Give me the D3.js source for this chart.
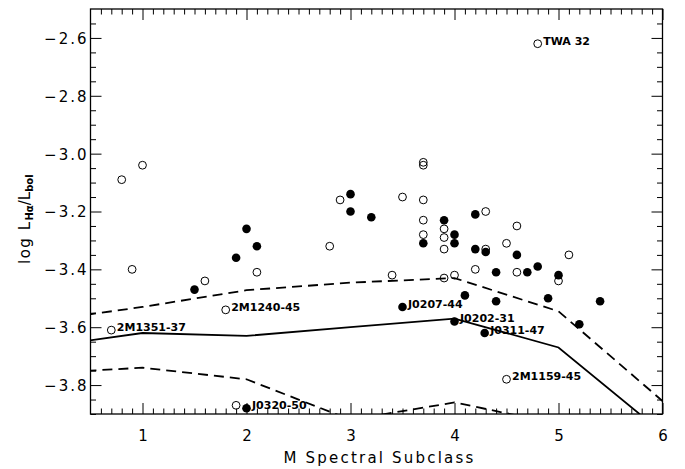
<!DOCTYPE html>
<html><head><meta charset="utf-8">
<script src="https://cdn.jsdelivr.net/npm/d3@7"></script>
<style>
html,body{margin:0;padding:0;background:#fff;}
svg{display:block;}
</style></head>
<body>
<svg id="chart" width="685" height="469"></svg>
<script>
// ---- data ----
const xTicks = [1, 2, 3, 4, 5, 6];
const yTicks = [-2.6, -2.8, -3.0, -3.2, -3.4, -3.6, -3.8];

const openX = [0.8, 1.0, 0.9, 1.6, 2.1, 2.8, 2.9, 3.4, 3.5, 3.7, 3.7, 3.7, 3.7, 3.7, 3.9, 3.9, 3.9, 3.9, 4.0, 4.2, 4.3, 4.3, 4.5, 4.6, 4.6, 5.0, 5.1, 1.9];
const openY = [-3.09, -3.04, -3.40, -3.44, -3.41, -3.32, -3.16, -3.42, -3.15, -3.03, -3.04, -3.16, -3.23, -3.28, -3.26, -3.29, -3.33, -3.43, -3.42, -3.40, -3.20, -3.33, -3.31, -3.25, -3.41, -3.44, -3.35, -3.87];

const filledX = [1.5, 1.9, 2.0, 2.1, 3.0, 3.0, 3.2, 3.7, 3.9, 4.0, 4.0, 4.2, 4.2, 4.3, 4.1, 4.4, 4.4, 4.6, 4.7, 4.8, 4.9, 5.0, 5.2, 5.4];
const filledY = [-3.47, -3.36, -3.26, -3.32, -3.14, -3.20, -3.22, -3.31, -3.23, -3.28, -3.31, -3.21, -3.33, -3.34, -3.49, -3.41, -3.51, -3.35, -3.41, -3.39, -3.50, -3.42, -3.59, -3.51];

const labelNames = ["TWA 32", "2M1351-37", "2M1240-45", "2M1159-45", "J0320-50", "J0207-44", "J0202-31", "J0311-47"];
const labelX = [4.8, 0.7, 1.8, 4.5, 2.0, 3.5, 4.0, 4.29];
const labelY = [-2.62, -3.61, -3.54, -3.78, -3.88, -3.53, -3.58, -3.62];
const labelFilled = [false, false, false, false, true, true, true, true];

const modelX = [0, 1, 2, 3, 4, 5, 6];
const meanY  = [-3.67, -3.62, -3.63, -3.60, -3.57, -3.67, -3.965];
const upperY = [-3.58, -3.53, -3.472, -3.446, -3.43, -3.545, -3.855];
const lowerY = [-3.76, -3.74, -3.78, -3.92, -3.86, -3.935, -4.1];

// ---- layout ----
const L = 90.5, R = 662.5, T = 9, B = 414;
const x = d3.scaleLinear().domain([0.5, 6]).range([L, R]);
const y = d3.scaleLinear().domain([-3.9, -2.5]).range([B, T]);
const font = "'DejaVu Sans', sans-serif";

const svg = d3.select("#chart");

svg.append("defs").append("clipPath").attr("id", "clip")
  .append("rect").attr("x", L).attr("y", T).attr("width", R - L).attr("height", B - T);

// minor tick values
const xMinor = d3.range(6, 60).map(v => v / 10).filter(v => !xTicks.some(t => Math.abs(t - v) < 1e-6));
const yMinor = d3.range(-78, -50).map(v => v / 20).filter(v => !yTicks.some(t => Math.abs(t - v) < 1e-6));

function styleAxis(g) {
  g.select(".domain").remove();
  g.selectAll("line").attr("stroke", "#000").attr("stroke-width", 1);
}

// bottom
svg.append("g").attr("transform", `translate(0,${B})`)
  .call(d3.axisBottom(x).tickValues(xMinor).tickSize(-5.5).tickFormat(""))
  .call(styleAxis);
const gb = svg.append("g").attr("transform", `translate(0,${B})`)
  .call(d3.axisBottom(x).tickValues(xTicks).tickSize(-11).tickFormat(d3.format("d")))
  .call(styleAxis);
gb.selectAll("text").attr("y", 27).attr("dy", null)
  .attr("font-family", font).attr("font-size", 15).attr("fill", "#000");

// top
svg.append("g").attr("transform", `translate(0,${T})`)
  .call(d3.axisTop(x).tickValues(xMinor).tickSize(-5.5).tickFormat(""))
  .call(styleAxis);
svg.append("g").attr("transform", `translate(0,${T})`)
  .call(d3.axisTop(x).tickValues(xTicks).tickSize(-11).tickFormat(""))
  .call(styleAxis);

// left
svg.append("g").attr("transform", `translate(${L},0)`)
  .call(d3.axisLeft(y).tickValues(yMinor).tickSize(-5.5).tickFormat(""))
  .call(styleAxis);
const gl = svg.append("g").attr("transform", `translate(${L},0)`)
  .call(d3.axisLeft(y).tickValues(yTicks).tickSize(-11).tickFormat(d => d3.format(".1f")(d).replace("-", "\u2212")))
  .call(styleAxis);
gl.selectAll("text").attr("x", -2).attr("dy", "0.36em")
  .attr("font-family", font).attr("font-size", 15).attr("letter-spacing", 2).attr("fill", "#000");

// right
svg.append("g").attr("transform", `translate(${R},0)`)
  .call(d3.axisRight(y).tickValues(yMinor).tickSize(-5.5).tickFormat(""))
  .call(styleAxis);
svg.append("g").attr("transform", `translate(${R},0)`)
  .call(d3.axisRight(y).tickValues(yTicks).tickSize(-11).tickFormat(""))
  .call(styleAxis);

// frame
svg.append("rect").attr("x", L).attr("y", T).attr("width", R - L).attr("height", B - T)
  .attr("fill", "none").attr("stroke", "#000").attr("stroke-width", 1.3);

// model lines
const line = d3.line().x(d => x(d[0])).y(d => y(d[1]));
const lg = svg.append("g").attr("clip-path", "url(#clip)");
lg.append("path").datum(modelX.map((v, i) => [v, meanY[i]])).attr("d", line)
  .attr("fill", "none").attr("stroke", "#000").attr("stroke-width", 1.8);
lg.append("path").datum(modelX.map((v, i) => [v, upperY[i]])).attr("d", line)
  .attr("fill", "none").attr("stroke", "#000").attr("stroke-width", 1.8).attr("stroke-dasharray", "10,6");
lg.append("path").datum(modelX.map((v, i) => [v, lowerY[i]])).attr("d", line)
  .attr("fill", "none").attr("stroke", "#000").attr("stroke-width", 1.8).attr("stroke-dasharray", "10,6");

// points
const openPts = openX.map((v, i) => [v, openY[i]]).concat(labelX.map((v, i) => [v, labelY[i], labelFilled[i]]).filter(d => !d[2]));
const filledPts = filledX.map((v, i) => [v, filledY[i]]).concat(labelX.map((v, i) => [v, labelY[i], labelFilled[i]]).filter(d => d[2]));

svg.append("g").selectAll("circle").data(openPts).join("circle")
  .attr("cx", d => x(d[0])).attr("cy", d => y(d[1])).attr("r", 3.9)
  .attr("fill", "none").attr("stroke", "#000").attr("stroke-width", 1);
svg.append("g").selectAll("circle").data(filledPts).join("circle")
  .attr("cx", d => x(d[0])).attr("cy", d => y(d[1])).attr("r", 4.3)
  .attr("fill", "#000");

// labels
svg.append("g").selectAll("text").data(labelNames).join("text")
  .attr("x", (d, i) => x(labelX[i]) + 5.5)
  .attr("y", (d, i) => y(labelY[i]) + 1)
  .attr("font-family", font).attr("font-size", 11).attr("font-weight", "bold")
  .attr("fill", "#000").text(d => d);

// axis titles
svg.append("text").attr("x", (L + R) / 2 + 3).attr("y", 463).attr("text-anchor", "middle")
  .attr("font-family", font).attr("font-size", 15).attr("letter-spacing", 2.2).attr("fill", "#000")
  .text("M Spectral Subclass");

const yt = svg.append("text").attr("transform", "translate(30,264) rotate(-90)")
  .attr("text-anchor", "start").attr("font-family", font).attr("font-size", 15).attr("fill", "#000");
yt.append("tspan").attr("letter-spacing", 1.5).text("log L");
yt.append("tspan").attr("font-size", 10).attr("font-weight", "bold").attr("dy", 3).text("H\u03b1");
yt.append("tspan").attr("dy", -3).text("/L");
yt.append("tspan").attr("font-size", 10).attr("font-weight", "bold").attr("dy", 3).text("bol");
</script>
</body></html>
